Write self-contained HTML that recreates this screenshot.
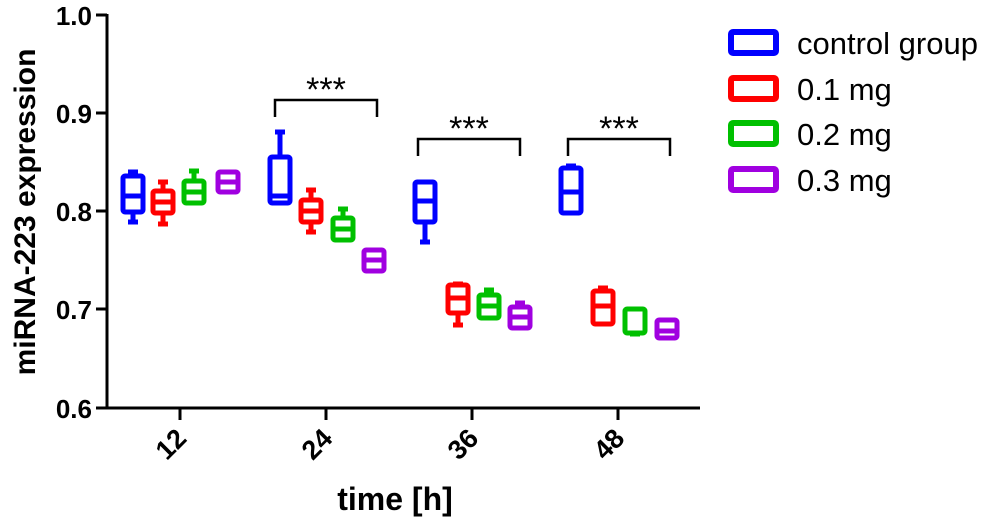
<!DOCTYPE html>
<html><head><style>body{margin:0;background:#fff}svg{display:block}</style></head>
<body>
<svg width="992" height="522" viewBox="0 0 992 522" xmlns="http://www.w3.org/2000/svg" font-family="Liberation Sans, sans-serif">
<g stroke="#000" stroke-width="3" fill="none">
<line x1="107" y1="14" x2="107" y2="408"/>
<line x1="106" y1="408" x2="700" y2="408"/>
<line x1="96" y1="15" x2="107" y2="15"/>
<line x1="96" y1="113" x2="107" y2="113"/>
<line x1="96" y1="211" x2="107" y2="211"/>
<line x1="96" y1="309" x2="107" y2="309"/>
<line x1="96" y1="408" x2="107" y2="408"/>
<line x1="180" y1="408" x2="180" y2="420"/>
<line x1="326" y1="408" x2="326" y2="420"/>
<line x1="472" y1="408" x2="472" y2="420"/>
<line x1="618" y1="408" x2="618" y2="420"/>
</g>
<g font-size="26" font-weight="bold" text-anchor="end" fill="#000">
<text x="92" y="25">1.0</text><text x="92" y="123">0.9</text><text x="92" y="221">0.8</text><text x="92" y="319">0.7</text><text x="92" y="418">0.6</text>
</g>
<g font-size="27" font-weight="bold" text-anchor="end" fill="#000">
<text transform="translate(188,440) rotate(-45)">12</text>
<text transform="translate(334,440) rotate(-45)">24</text>
<text transform="translate(480,440) rotate(-45)">36</text>
<text transform="translate(626,440) rotate(-45)">48</text>
</g>
<text x="395" y="510" font-size="32" font-weight="bold" text-anchor="middle">time [h]</text>
<text transform="translate(35,212) rotate(-90)" font-size="30" font-weight="bold" text-anchor="middle">miRNA-223 expression</text>
<g stroke-width="5" fill="none" stroke-linejoin="round">
<g stroke="#0000ff">
<path d="M133 172V222M128 172h10M128 222h10"/><rect x="123" y="176" width="20" height="36" fill="#fff" rx="2"/><line x1="123" y1="196" x2="143" y2="196"/>
<path d="M280 132V160M275 132h10"/><rect x="270" y="157" width="20" height="46" fill="#fff" rx="2"/><line x1="270" y1="196" x2="290" y2="196"/>
<path d="M425 218V242M420 242h10"/><rect x="415" y="182" width="20" height="40" fill="#fff" rx="2"/><line x1="415" y1="201" x2="435" y2="201"/>
<path d="M571 165V170M566 166h10"/><rect x="561" y="168" width="20" height="45" fill="#fff" rx="2"/><line x1="561" y1="192" x2="581" y2="192"/>
</g>
<g stroke="#ff0000">
<path d="M163 182V224M158 182h10M158 224h10"/><rect x="153" y="191" width="20" height="22" fill="#fff" rx="2"/><line x1="153" y1="202" x2="173" y2="202"/>
<path d="M311 190V232M306 190h10M306 232h10"/><rect x="301" y="200" width="20" height="22" fill="#fff" rx="2"/><line x1="301" y1="211" x2="321" y2="211"/>
<path d="M458 284V325M453 325h10M453 284h10"/><rect x="448" y="285" width="20" height="28" fill="#fff" rx="2"/><line x1="448" y1="298" x2="468" y2="298"/>
<path d="M603 288V294M598 288h10"/><rect x="593" y="291" width="20" height="33" fill="#fff" rx="2"/><line x1="593" y1="306" x2="613" y2="306"/>
</g>
<g stroke="#00c000">
<path d="M194 171V182M189 171h10"/><rect x="184" y="181" width="20" height="22" fill="#fff" rx="2"/><line x1="184" y1="192" x2="204" y2="192"/>
<path d="M343 209V220M338 209h10"/><rect x="333" y="218" width="20" height="22" fill="#fff" rx="2"/><line x1="333" y1="229" x2="353" y2="229"/>
<path d="M489 290V296M484 290h10"/><rect x="479" y="295" width="20" height="23" fill="#fff" rx="2"/><line x1="479" y1="306" x2="499" y2="306"/>
<rect x="625" y="309" width="20" height="24" fill="#fff" rx="2"/><path d="M630 334h10"/>
</g>
<g stroke="#a000e0">
<rect x="218" y="172" width="20" height="20" fill="#fff" rx="2"/><line x1="218" y1="182" x2="238" y2="182"/>
<rect x="364" y="250" width="20" height="21" fill="#fff" rx="2"/><line x1="364" y1="260" x2="384" y2="260"/>
<path d="M520 303V308M515 303h10"/><rect x="510" y="307" width="20" height="21" fill="#fff" rx="2"/><line x1="510" y1="317" x2="530" y2="317"/>
<rect x="657" y="320" width="20" height="18" fill="#fff" rx="2"/><line x1="657" y1="331" x2="677" y2="331"/>
</g>
</g>
<g stroke="#000" stroke-width="2.5" fill="none">
<path d="M275 117V100H377V117"/>
<path d="M418 156V139H520V156"/>
<path d="M568 156V139H670V156"/>
</g>
<g font-size="34" text-anchor="middle" fill="#000">
<text x="326" y="101">***</text><text x="469" y="140">***</text><text x="619" y="140">***</text>
</g>
<g stroke-width="6" fill="#fff">
<rect x="731" y="32" width="45" height="21" rx="2" stroke="#0000ff"/>
<rect x="731" y="78" width="45" height="21" rx="2" stroke="#ff0000"/>
<rect x="731" y="123" width="45" height="21" rx="2" stroke="#00c000"/>
<rect x="731" y="169" width="45" height="21" rx="2" stroke="#a000e0"/>
</g>
<g font-size="31" fill="#000">
<text x="797" y="54">control group</text><text x="797" y="100">0.1 mg</text><text x="797" y="145">0.2 mg</text><text x="797" y="191">0.3 mg</text>
</g>
</svg>
</body></html>
